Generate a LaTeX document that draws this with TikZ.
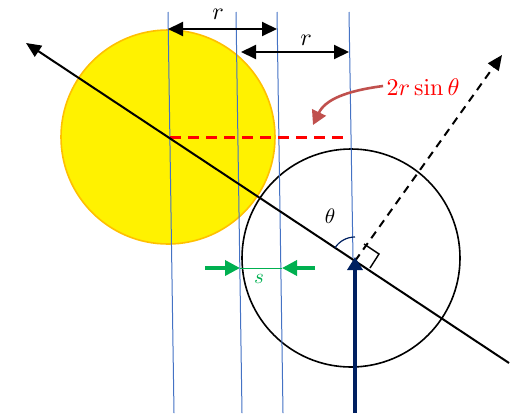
\documentclass[tikz,border=0pt]{standalone}
\usetikzlibrary{arrows.meta}
\definecolor{bl}{RGB}{68,114,196}
\definecolor{navy}{RGB}{0,32,96}
\definecolor{gr}{RGB}{0,176,80}
\definecolor{orng}{RGB}{255,192,0}
\definecolor{brred}{RGB}{192,80,77}
\begin{document}
\begin{tikzpicture}[x=1pt,y=-1pt,
  blueline/.style={draw=bl, line width=1pt},
  rarrow/.style={line width=2pt, {Triangle[length=15pt,width=14pt]}-{Triangle[length=15pt,width=14pt]}},
  tip/.style={-{Triangle[length=15pt,width=13pt]}},
  lab/.style={inner sep=0pt}]
\useasboundingbox (0,0) rectangle (511,413);
% circles
\node[lab] (yc) at (168,137) {};
\node[lab] (bc) at (351,258) {};
\fill[yellow, draw=orng, line width=1.6pt] (yc) circle (107);
\draw[black, line width=1.6pt] (bc) circle (109);
% blue lines
\coordinate (b1t) at (168,12); \coordinate (b1b) at (174,413);
\coordinate (b2t) at (236,12); \coordinate (b2b) at (242,413);
\coordinate (b3t) at (277,12); \coordinate (b3b) at (283,413);
\coordinate (b4t) at (349,12); \coordinate (b4b) at (353,258);
\draw[blueline] (b1t) -- (b1b);
\draw[blueline] (b2t) -- (b2b);
\draw[blueline] (b3t) -- (b3b);
\draw[blueline] (b4t) -- (b4b);
% red dashed
\coordinate (rd1) at (170,137); \coordinate (rd2) at (350,137);
\draw[red, line width=3pt, dash pattern=on 11pt off 7pt] (rd1) -- (rd2);
% long black line
\coordinate (la) at (26,43); \coordinate (lb) at (509,363);
\draw[black, line width=2pt, tip] (lb) -- (la);
% dashed arrow
\coordinate (o) at (355,261); \coordinate (da) at (502,55);
\draw[black, line width=2pt, dash pattern=on 8pt off 6pt, tip] (o) -- (da);
% theta arc
\draw[navy, line width=1.2pt] (o) ++(-90:24) arc[start angle=-90, end angle=-146.5, radius=24];
\node[lab, scale=2.1] (th) at (330,216) {$\theta$};
% right angle marker
\draw[black, line width=1.4pt] (364,244) -- (379,254) -- (370,268);
% navy arrow
\coordinate (nb) at (355,413); \coordinate (nt) at (355,257);
\draw[navy, line width=4.5pt, -{Triangle[length=13pt,width=15pt]}] (nb) -- (nt);
% r arrows
\coordinate (r1a) at (168,29); \coordinate (r1b) at (277,29);
\coordinate (r2a) at (241,52); \coordinate (r2b) at (349,52);
\draw[rarrow] (r1a) -- (r1b);
\draw[rarrow] (r2a) -- (r2b);
\node[lab, scale=2.4] (rl1) at (218,14) {$r$};
\node[lab, scale=2.4] (rl2) at (306,40) {$r$};
% green s
\coordinate (g1) at (205,268); \coordinate (g2) at (240,268);
\coordinate (g3) at (315,268); \coordinate (g4) at (282,268);
\draw[gr, line width=3.5pt, -{Triangle[length=15pt,width=15pt]}] (g1) -- (g2);
\draw[gr, line width=3.5pt, -{Triangle[length=15pt,width=15pt]}] (g3) -- (g4);
\draw[gr, line width=0.8pt] (g2) -- (g4);
\node[lab, text=gr, scale=2.1] (sl) at (259,279) {$s$};
% 2r sin theta
\node[lab, text=red, scale=2.4] (lbl) at (423,87) {$2r\sin\theta$};
\coordinate (ct) at (313,125);
\draw[brred, line width=2.6pt, -{Triangle[length=14pt,width=15pt]}] ([xshift=-3pt,yshift=1pt]lbl.west) .. controls (345,91) and (325,100) .. (ct);
\end{tikzpicture}
\end{document}
